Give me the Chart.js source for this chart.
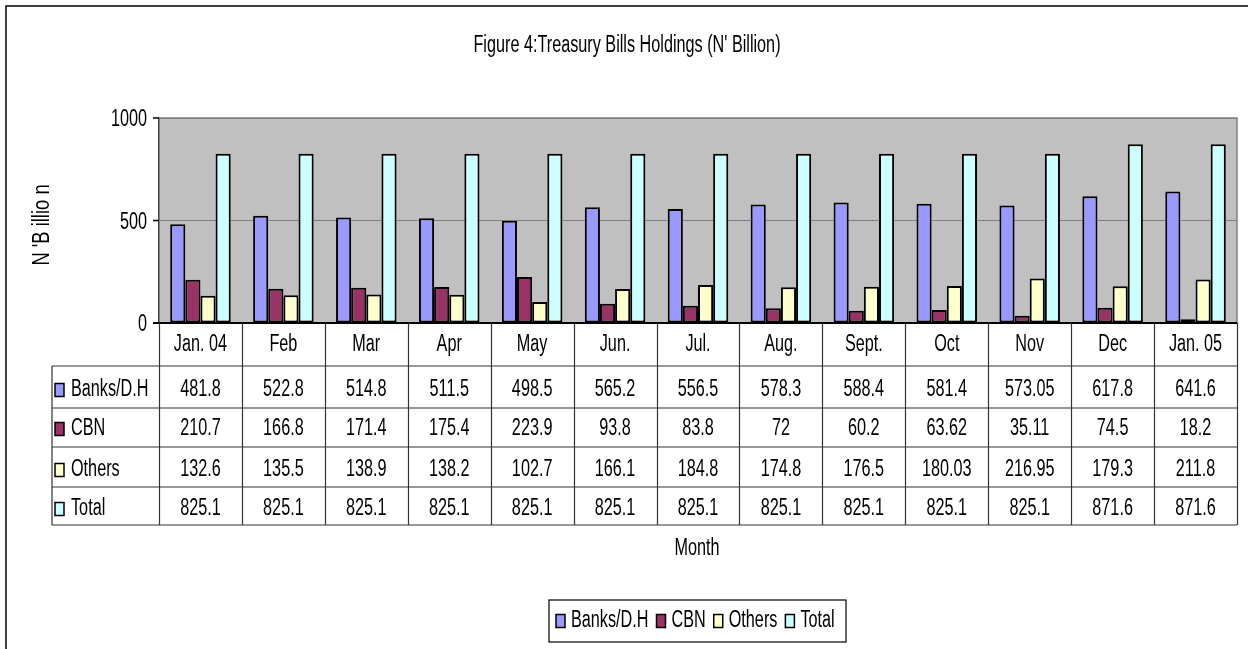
<!DOCTYPE html>
<html>
<head>
<meta charset="utf-8">
<script src="https://cdn.jsdelivr.net/npm/chart.js@4/dist/chart.umd.min.js"></script>
<style>
  html, body { margin: 0; padding: 0; background: #ffffff; }
  #wrap { width: 1248px; height: 649px; }
</style>
</head>
<body>
<div id="wrap"><canvas id="c" width="1248" height="649"></canvas></div>
<script>
const chartTitle = "Figure 4:Treasury Bills Holdings (N' Billion)";
const yAxisTitle = "N 'B illio n";
const xAxisTitle = "Month";
const categories = ['Jan. 04','Feb','Mar','Apr','May','Jun.','Jul.','Aug.','Sept.','Oct','Nov','Dec','Jan. 05'];
const seriesNames = ['Banks/D.H','CBN','Others','Total'];
const banks  = [481.8, 522.8, 514.8, 511.5, 498.5, 565.2, 556.5, 578.3, 588.4, 581.4, 573.05, 617.8, 641.6];
const cbn    = [210.7, 166.8, 171.4, 175.4, 223.9, 93.8, 83.8, 72, 60.2, 63.62, 35.11, 74.5, 18.2];
const others = [132.6, 135.5, 138.9, 138.2, 102.7, 166.1, 184.8, 174.8, 176.5, 180.03, 216.95, 179.3, 211.8];
const total  = [825.1, 825.1, 825.1, 825.1, 825.1, 825.1, 825.1, 825.1, 825.1, 825.1, 825.1, 871.6, 871.6];
const yTickValues = [0, 500, 1000];
const seriesColors = ['#9999FF', '#993366', '#FFFFCC', '#CCFFFF'];
const seriesValues = [banks, cbn, others, total];

const FONT = '23px "Liberation Sans", Arial, sans-serif';
const SX = 0.705;

function txt(ctx, s, x, y, align, sx) {
  ctx.save();
  ctx.translate(x, y);
  ctx.scale(sx || SX, 1);
  ctx.font = FONT;
  ctx.fillStyle = '#000';
  ctx.textAlign = align || 'center';
  ctx.textBaseline = 'middle';
  ctx.fillText(s, 0, 0);
  ctx.restore();
}
function textW(ctx, s) {
  ctx.save(); ctx.font = FONT; const w = ctx.measureText(s).width * SX; ctx.restore(); return w;
}
function swatch(ctx, x, yc, color) {
  ctx.save();
  ctx.fillStyle = color;
  ctx.fillRect(x, yc - 6.5, 9, 13);
  ctx.strokeStyle = '#000';
  ctx.lineWidth = 1.5;
  ctx.strokeRect(x, yc - 6.5, 9, 13);
  ctx.restore();
}

const deco = {
  id: 'deco',
  beforeDraw(chart) {
    const ctx = chart.ctx, a = chart.chartArea;
    ctx.save();
    ctx.fillStyle = '#fff';
    ctx.fillRect(0, 0, chart.width, chart.height);
    ctx.strokeStyle = '#000';
    ctx.lineWidth = 1.5;
    ctx.beginPath();
    ctx.moveTo(6, 660); ctx.lineTo(6, 6); ctx.lineTo(1260, 6);
    ctx.stroke();
    ctx.fillStyle = '#C0C0C0';
    ctx.fillRect(a.left, a.top, a.right - a.left, a.bottom - a.top);
    ctx.restore();
  },
  afterDraw(chart) {
    const ctx = chart.ctx, a = chart.chartArea;
    const ys = chart.scales.y;
    ctx.save();
    // plot frame
    ctx.strokeStyle = '#808080';
    ctx.lineWidth = 1.5;
    ctx.beginPath();
    ctx.moveTo(a.left, a.top); ctx.lineTo(a.right, a.top); ctx.lineTo(a.right, a.bottom);
    ctx.stroke();
    // y ticks and labels
    ctx.strokeStyle = '#000';
    ctx.lineWidth = 1.5;
    ys.ticks.forEach(t => {
      const py = ys.getPixelForValue(t.value);
      ctx.beginPath(); ctx.moveTo(a.left - 6, py); ctx.lineTo(a.left, py); ctx.stroke();
      txt(ctx, String(t.value), 147, py + 2, 'right');
    });
    // x axis line
    ctx.strokeStyle = '#000';
    ctx.lineWidth = 2;
    ctx.beginPath(); ctx.moveTo(a.left - 6, a.bottom); ctx.lineTo(a.right, a.bottom); ctx.stroke();

    // data table
    const n = categories.length;
    const cw = (a.right - a.left) / n;
    const rows = [a.bottom, 366, 408, 447, 487, 525];
    const labelLeft = 52;
    ctx.strokeStyle = '#333';
    ctx.lineWidth = 1.2;
    ctx.beginPath();
    for (let r = 1; r < rows.length; r++) {
      ctx.moveTo(labelLeft, rows[r]); ctx.lineTo(a.right, rows[r]);
    }
    for (let i = 0; i <= n; i++) {
      const x = Math.round(a.left + i * cw) + 0.5;
      ctx.moveTo(x, a.bottom); ctx.lineTo(x, rows[5]);
    }
    ctx.moveTo(labelLeft, rows[1]); ctx.lineTo(labelLeft, rows[5]);
    ctx.stroke();

    const xs = chart.scales.x;
    categories.forEach((c, i) => {
      txt(ctx, c, xs.getPixelForValue(i), 345, 'center');
    });
    const rowCenters = [390, 429, 470, 509];
    seriesNames.forEach((name, s) => {
      swatch(ctx, 55, rowCenters[s], seriesColors[s]);
      txt(ctx, name, 71, rowCenters[s], 'left');
      seriesValues[s].forEach((v, i) => {
        txt(ctx, String(v), xs.getPixelForValue(i), rowCenters[s], 'center');
      });
    });

    // titles
    txt(ctx, chartTitle, 627, 46, 'center');
    txt(ctx, xAxisTitle, 697, 549, 'center');
    ctx.save();
    ctx.translate(43, 225);
    ctx.rotate(-Math.PI / 2);
    txt(ctx, yAxisTitle, 0, 0, 'center', 0.8);
    ctx.restore();

    // legend
    const lx0 = 549, lx1 = 846, ly0 = 600, ly1 = 642, lyc = 621;
    ctx.strokeStyle = '#000';
    ctx.lineWidth = 1.2;
    ctx.strokeRect(lx0, ly0, lx1 - lx0, ly1 - ly0);
    let cx = 556;
    seriesNames.forEach((name, s) => {
      swatch(ctx, cx, lyc, seriesColors[s]);
      txt(ctx, name, cx + 15, lyc, 'left');
      cx += 15 + textW(ctx, name) + 8;
    });
    ctx.restore();
  }
};

new Chart(document.getElementById('c'), {
  type: 'bar',
  data: {
    labels: categories,
    datasets: seriesNames.map((name, s) => ({
      label: name,
      data: seriesValues[s],
      backgroundColor: seriesColors[s],
      borderColor: '#000',
      borderWidth: 2,
      borderSkipped: false,
      categoryPercentage: 0.73,
      barPercentage: 1.0
    }))
  },
  options: {
    responsive: false,
    animation: false,
    devicePixelRatio: 1,
    layout: { padding: { left: 0, top: 118, right: 11, bottom: 326 } },
    plugins: { legend: { display: false }, title: { display: false }, tooltip: { enabled: false } },
    scales: {
      x: { display: false },
      y: {
        min: 0, max: 1000,
        ticks: { stepSize: 500, display: false },
        afterBuildTicks: s => { s.ticks = yTickValues.map(v => ({ value: v })); },
        grid: { color: '#808080', lineWidth: 1, drawTicks: false },
        border: { display: true, color: '#404040', width: 1.5 },
        afterFit: s => { s.width = 159; }
      }
    }
  },
  plugins: [deco]
});
</script>
</body>
</html>
